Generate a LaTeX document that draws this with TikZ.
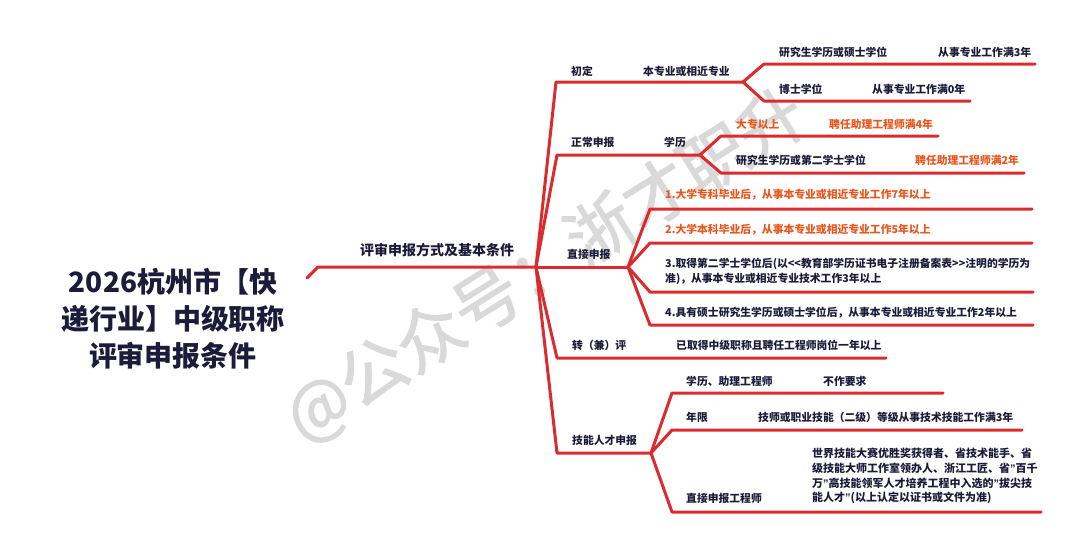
\documentclass[tikz,border=0pt]{standalone}
\usepackage{fontspec}
\setmainfont{Noto Sans CJK SC}[Ligatures=TeXOff]
\newfontfamily\wmfont{Noto Sans CJK SC}[FakeBold=1.6]
\newfontfamily\qfont{Liberation Sans}
\newcommand{\myquote}{{\qfont\bfseries ”}}
\definecolor{linered}{HTML}{DC2B2E}
\definecolor{txt}{HTML}{1C1C3A}
\definecolor{orng}{HTML}{E9571E}
\definecolor{wm}{HTML}{D9D9D9}
\begin{document}
\begin{tikzpicture}[x=1pt,y=-1pt,
  br/.style={draw=linered, line width=3pt, line join=round, line cap=round},
  lbl/.style={anchor=west, inner sep=0pt, font=\fontsize{10.8}{14.7}\selectfont\bfseries, text=txt},
  olbl/.style={lbl, text=orng},
  plbl/.style={lbl, align=left},
  mainlbl/.style={anchor=west, inner sep=0pt, font=\fontsize{14}{17}\selectfont\bfseries, text=txt},
  titlelbl/.style={inner sep=0pt, align=center, font=\fontsize{28}{37}\selectfont\bfseries, text=txt},
  wmark/.style={inner sep=0pt, rotate=32, font=\wmfont\fontsize{67}{72}\selectfont, text=wm}]
\useasboundingbox[fill=white] (0,0) rectangle (1080,555);

% watermark
\node[wmark] (wm) at (546,266) {@公众号：浙才职升};

% coordinates
\coordinate (r0) at (307,278);
\coordinate (r1) at (318,267);
\coordinate (h0) at (536,267);
\coordinate (c1) at (556,82);
\coordinate (h1) at (743,82);
\coordinate (c11) at (764,64);
\coordinate (e11) at (1035,64);
\coordinate (c12) at (764,101);
\coordinate (e12) at (970,101);
\coordinate (c2) at (557,155);
\coordinate (h2) at (700,155);
\coordinate (c21) at (721,136);
\coordinate (e21) at (938,136);
\coordinate (c22) at (721,173);
\coordinate (e22) at (1024,173);
\coordinate (h3) at (628,267);
\coordinate (c31) at (650,209);
\coordinate (e31) at (1032,209);
\coordinate (c32) at (650,243);
\coordinate (e32) at (1032,243);
\coordinate (c33) at (650,292);
\coordinate (e33) at (1033,292);
\coordinate (c34) at (650,325);
\coordinate (e34) at (1033,325);
\coordinate (c4) at (557,358);
\coordinate (e4) at (886,358);
\coordinate (c5) at (557,453);
\coordinate (h5) at (651,453);
\coordinate (c51) at (672,393);
\coordinate (e51) at (943,393);
\coordinate (c52) at (672,430);
\coordinate (e52) at (1022,430);
\coordinate (c53) at (672,512);
\coordinate (e53) at (1041,512);

% connectors
\draw[br] (r0) -- (r1) -- (h0);
\draw[br] (h0) -- (c1) -- (h1);
\draw[br] (h1) -- (c11) -- (e11);
\draw[br] (h1) -- (c12) -- (e12);
\draw[br] (h0) -- (c2) -- (h2);
\draw[br] (h2) -- (c21) -- (e21);
\draw[br] (h2) -- (c22) -- (e22);
\draw[br] (h0) -- (h3);
\draw[br] (h3) -- (c31) -- (e31);
\draw[br] (h3) -- (c32) -- (e32);
\draw[br] (h3) -- (c33) -- (e33);
\draw[br] (h3) -- (c34) -- (e34);
\draw[br] (h0) -- (c4) -- (e4);
\draw[br] (h0) -- (c5) -- (h5);
\draw[br] (h5) -- (c51) -- (e51);
\draw[br] (h5) -- (c52) -- (e52);
\draw[br] (h5) -- (c53) -- (e53);

% title
\node[titlelbl] (title) at (173,319) {2026杭州市【快\\递行业】中级职称\\评审申报条件};
\node[mainlbl] (main) at (360,250) {评审申报方式及基本条件};

% level 1
\node[lbl] (chuding) at (571,71) {初定};
\node[lbl] (zhengchang) at (571,142) {正常申报};
\node[lbl] (zhijie) at (567,254) {直接申报};
\node[lbl] (zhuan) at (572,345) {转（兼）评};
\node[lbl] (jineng) at (572,440) {技能人才申报};

% 初定
\node[lbl] (bzy) at (643,71) {本专业或相近专业};
\node[lbl] (yjs) at (779,52) {研究生学历或硕士学位};
\node[lbl] (yjsn) at (938,52) {从事专业工作满3年};
\node[lbl] (bs) at (779,89) {博士学位};
\node[lbl] (bsn) at (872,89) {从事专业工作满0年};

% 正常申报
\node[lbl] (xl) at (664,142) {学历};
\node[olbl] (dz) at (736,124) {大专以上};
\node[olbl] (dzn) at (829,124) {聘任助理工程师满4年};
\node[lbl] (yjs2) at (736,160) {研究生学历或第二学士学位};
\node[olbl] (yjs2n) at (915,160) {聘任助理工程师满2年};

% 直接申报
\node[olbl] (d1) at (665,195) {1.大学专科毕业后，从事本专业或相近专业工作7年以上};
\node[olbl] (d2) at (665,230) {2.大学本科毕业后，从事本专业或相近专业工作5年以上};
\node[plbl] (d3) at (665,271.5) {3.取得第二学士学位后(以<<教育部学历证书电子注册备案表>>注明的学历为\\准)，从事本专业或相近专业技术工作3年以上};
\node[lbl] (d4) at (665,313) {4.具有硕士研究生学历或硕士学位后，从事本专业或相近专业工作2年以上};

% 转（兼）评
\node[lbl] (zj) at (676,345) {已取得中级职称且聘任工程师岗位一年以上};

% 技能人才申报
\node[lbl] (j1) at (686,381) {学历、助理工程师};
\node[lbl] (j1n) at (823,381) {不作要求};
\node[lbl] (j2) at (686,417) {年限};
\node[lbl] (j2n) at (758,417) {技师或职业技能（二级）等级从事技术技能工作满3年};
\node[lbl] (j3) at (686,498) {直接申报工程师};
\node[plbl, font=\fontsize{11}{14.7}\selectfont\bfseries] (j3n) at (812,476) {世界技能大赛优胜奖获得者、省技术能手、省\\级技能大师工作室领办人、浙江工匠、省\myquote 百千\\万\myquote 高技能领军人才培养工程中入选的\myquote 拔尖技\\能人才\myquote(以上认定以证书或文件为准)};
\end{tikzpicture}
\end{document}
